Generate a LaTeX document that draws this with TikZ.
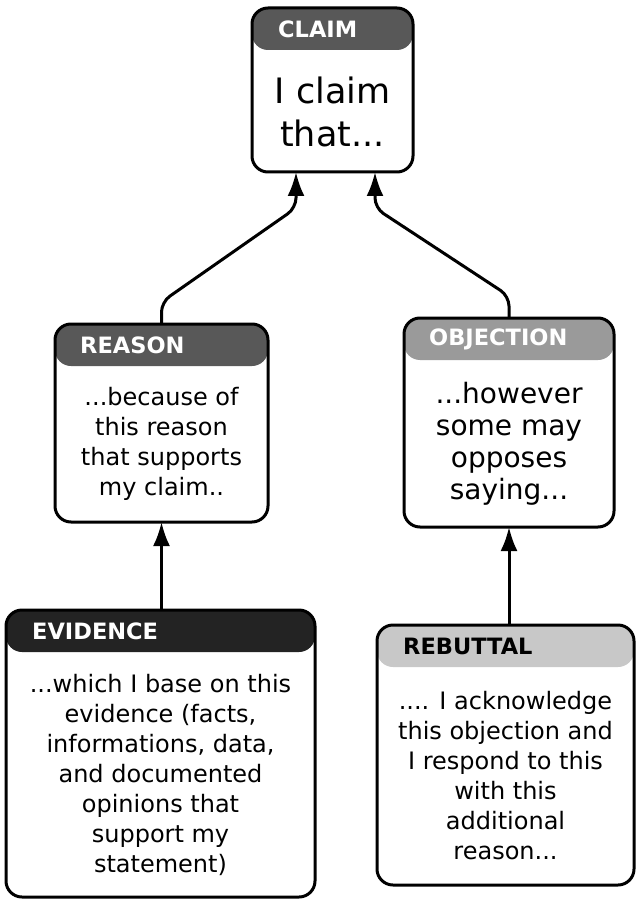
\documentclass[tikz,border=0pt]{standalone}
\usepackage{fontspec}
\setmainfont{DejaVu Sans}
\usetikzlibrary{arrows.meta,calc}

\definecolor{hdmid}{HTML}{585858}
\definecolor{hdlight}{HTML}{9A9A9A}
\definecolor{hddark}{HTML}{232323}
\definecolor{hdpale}{HTML}{C8C8C8}

\begin{document}
\begin{tikzpicture}[x=1pt,y=-1pt,
    concept/.style={draw=black, line width=3pt, fill=white, rounded corners=16pt,
        inner sep=0pt, outer sep=0pt,
        path picture={\fill[#1] (path picture bounding box.north west)
            rectangle ([yshift=-42pt]path picture bounding box.north east);}},
    hdtext/.style={anchor=west, inner sep=0pt, font=\fontsize{22.5}{25}\selectfont\bfseries},
    bodytext/.style={align=center, inner sep=0pt, font=\fontsize{24}{30}\selectfont},
    link/.style={line width=3pt, rounded corners=10pt, -{Latex[length=24pt,width=17pt]}}]

    \fill[white] (0,0) rectangle (636,901);
    \useasboundingbox (0,0) rectangle (636,901);

    % the five concepts
    \node[concept=hdmid, minimum width=161pt, minimum height=164pt] (claim) at (332.5,90) {};
    \node[concept=hdmid, minimum width=213pt, minimum height=198pt] (reason) at (161.5,423) {};
    \node[concept=hdlight, minimum width=210pt, minimum height=209pt] (objection) at (509,422.5) {};
    \node[concept=hddark, minimum width=309pt, minimum height=287pt] (evidence) at (160.5,753.5) {};
    \node[concept=hdpale, minimum width=257pt, minimum height=260pt] (rebuttal) at (505.5,755) {};

    \node[hdtext, text=white] (claimhd) at ([xshift=26pt,yshift=-21pt]claim.north west) {CLAIM};
    \node[hdtext, text=white] (reasonhd) at ([xshift=25pt,yshift=-21pt]reason.north west) {REASON};
    \node[hdtext, text=white] (objectionhd) at ([xshift=25pt,yshift=-21pt]objection.north west) {OBJECTION};
    \node[hdtext, text=white] (evidencehd) at ([xshift=26pt,yshift=-21pt]evidence.north west) {EVIDENCE};
    \node[hdtext, text=black] (rebuttalhd) at ([xshift=26pt,yshift=-21pt]rebuttal.north west) {REBUTTAL};

    \node[bodytext, font=\fontsize{35}{43}\selectfont] (claimtxt) at ([yshift=-22pt]claim.center) {I claim\\that...};
    \node[bodytext] (reasontxt) at ([yshift=-21pt]reason.center) {...because of\\this reason\\that supports\\my claim..};
    \node[bodytext, font=\fontsize{28}{32}\selectfont] (objectiontxt) at ([yshift=-21pt]objection.center) {...however\\some may\\opposes\\saying...};
    \node[bodytext] (evidencetxt) at ([yshift=-21pt]evidence.center) {...which I base on this\\evidence (facts,\\informations, data,\\and documented\\opinions that\\support my\\statement)};
    \node[bodytext] (rebuttaltxt) at ([yshift=-21pt]rebuttal.center) {.... I acknowledge\\this objection and\\I respond to this\\with this\\additional\\reason...};

    % links
    \draw[link] (reason.north) -- ++(0,-22) -- (296,208) -- (claim.south -| 296,0);
    \draw[link] (objection.north) -- ++(0,-22) -- (375,208) -- (claim.south -| 375,0);
    \draw[link] (evidence.north -| reason.south) -- (reason.south);
    \draw[link] (rebuttal.north -| objection.south) -- (objection.south);

\end{tikzpicture}
\end{document}
